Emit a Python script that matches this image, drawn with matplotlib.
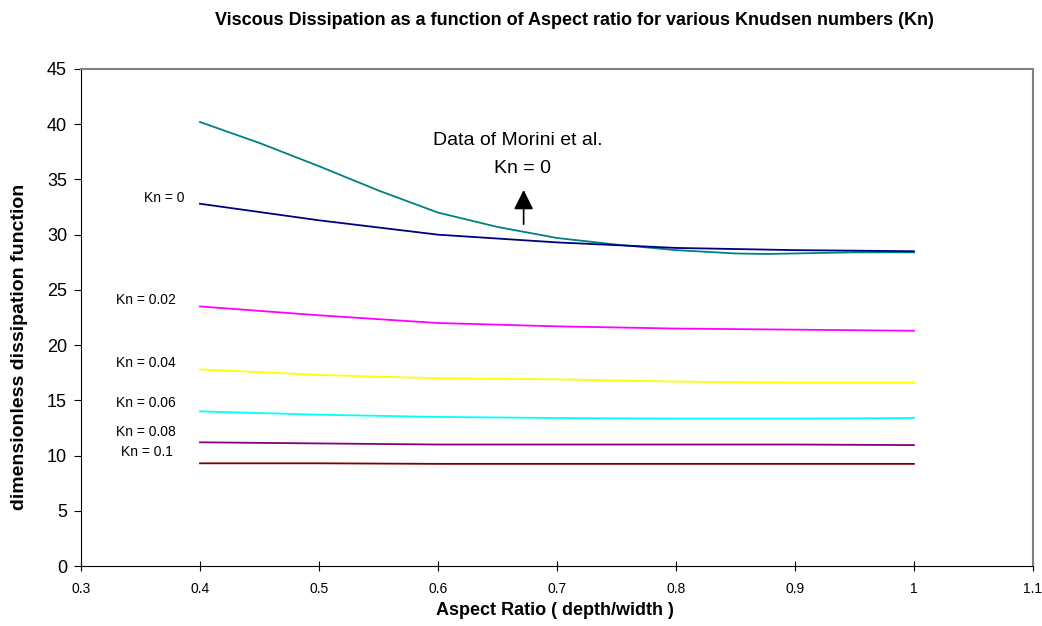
import matplotlib
matplotlib.use("Agg")
import matplotlib.pyplot as plt

plt.rcParams["font.family"] = ["Liberation Sans", "DejaVu Sans"]

# aspect ratio (depth/width)
aspect = [0.4, 0.5, 0.6, 0.7, 0.8, 0.9, 1.0]
morini_x = [0.4, 0.45, 0.5, 0.55, 0.6, 0.65, 0.7, 0.75, 0.8, 0.85, 0.875, 0.9, 0.95, 1.0]
morini_y = [40.2, 38.3, 36.2, 34.0, 32.0, 30.7, 29.7, 29.1, 28.6, 28.3, 28.25, 28.3, 28.4, 28.4]

kn_labels = ["Kn = 0", "Kn = 0.02", "Kn = 0.04", "Kn = 0.06", "Kn = 0.08", "Kn = 0.1"]
kn_0 = [32.8, 31.3, 30.0, 29.3, 28.8, 28.6, 28.5]
kn_002 = [23.5, 22.7, 22.0, 21.7, 21.5, 21.4, 21.3]
kn_004 = [17.8, 17.3, 17.0, 16.9, 16.7, 16.6, 16.6]
kn_006 = [14.0, 13.7, 13.5, 13.4, 13.35, 13.35, 13.4]
kn_008 = [11.2, 11.1, 11.0, 11.0, 11.0, 11.0, 10.95]
kn_01 = [9.3, 9.3, 9.25, 9.25, 9.25, 9.25, 9.25]
kn_series = [kn_0, kn_002, kn_004, kn_006, kn_008, kn_01]
kn_colors = ["#000080", "#ff00ff", "#ffff00", "#00ffff", "#800080", "#800000"]
# label anchors (right edge) in data units
label_pos = [(0.387, 33.3), (0.380, 24.1), (0.380, 18.4), (0.380, 14.8), (0.380, 12.1), (0.377, 10.3)]

fig = plt.figure(figsize=(10.42, 6.26), dpi=100)
ax = fig.add_axes([0.0777, 0.0958, 0.9136, 0.794])

ax.plot(morini_x, morini_y, color="#008080", lw=1.3)
for ys, c in zip(kn_series, kn_colors):
    ax.plot(aspect, ys, color=c, lw=1.3)

for lab, (lx, ly) in zip(kn_labels, label_pos):
    ax.text(lx, ly, lab, fontsize=10, ha="right", va="center")

ax.annotate("", xy=(0.672, 34.3), xytext=(0.672, 30.7),
            arrowprops=dict(arrowstyle="-|>", color="black", lw=1.2, mutation_scale=30))
ax.text(0.667, 38.5, "Data of Morini et al.", fontsize=14, ha="center", va="center")
ax.text(0.671, 36.0, "Kn = 0", fontsize=14, ha="center", va="center")

ax.set_xlim(0.3, 1.1)
ax.set_ylim(0, 45)
ax.set_xticks([0.3, 0.4, 0.5, 0.6, 0.7, 0.8, 0.9, 1.0, 1.1])
ax.set_xticklabels(["0.3", "0.4", "0.5", "0.6", "0.7", "0.8", "0.9", "1", "1.1"])
ax.set_yticks(range(0, 46, 5))
ax.tick_params(axis="x", direction="inout", length=7, labelsize=10, pad=8)
ax.tick_params(axis="y", direction="out", length=5, labelsize=13, pad=5)
for s in ["top", "right"]:
    ax.spines[s].set_color("#808080")
    ax.spines[s].set_linewidth(1.5)
for s in ["left", "bottom"]:
    ax.spines[s].set_color("black")

ax.set_xlabel("Aspect Ratio ( depth/width )", fontsize=13, fontweight="bold")
ax.xaxis.set_label_coords(0.498, -0.072)
ax.set_ylabel("dimensionless dissipation function", fontsize=14, fontweight="bold")
ax.yaxis.set_label_coords(-0.056, 0.44)
fig.text(0.551, 0.968, "Viscous Dissipation as a function of Aspect ratio for various Knudsen numbers (Kn)",
         fontsize=13, fontweight="bold", ha="center", va="center")

fig.savefig("out.png", facecolor="white")
